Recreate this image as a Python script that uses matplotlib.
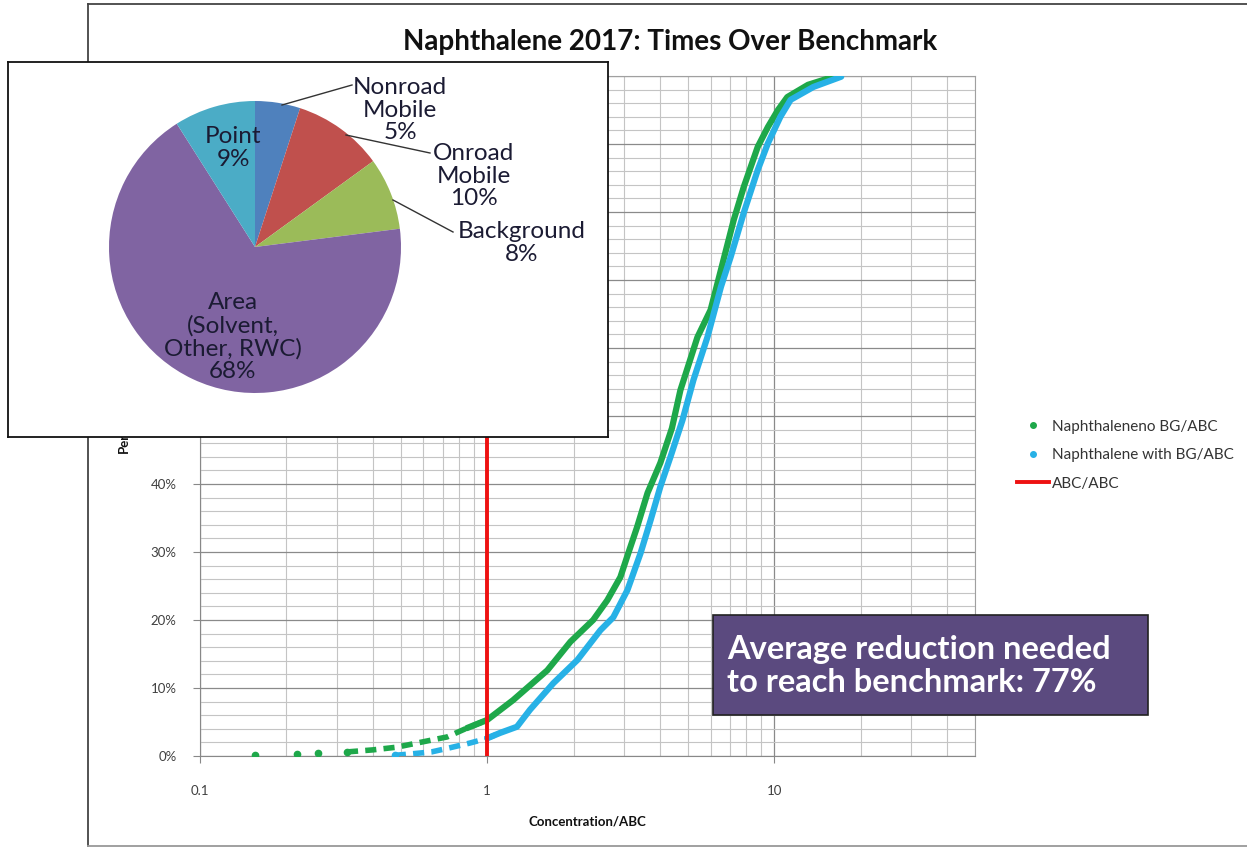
import matplotlib
matplotlib.use("Agg")
import matplotlib.pyplot as plt
import numpy as np
from matplotlib.lines import Line2D
from matplotlib.patches import Rectangle
from matplotlib.ticker import MultipleLocator, FixedLocator, FuncFormatter, NullFormatter

plt.rcParams['font.family'] = ['Lato', 'DejaVu Sans']

# concentration / ABC  vs cumulative percent of sites
green_x = [0.155, 0.217, 0.257, 0.325, 0.40, 0.485, 0.60, 0.725, 0.85, 1.0, 1.23, 1.62, 1.95, 2.34,
           2.62, 2.91, 3.10, 3.33, 3.62, 4.01, 4.40, 4.71, 5.40, 6.0, 6.52, 7.22, 7.83, 8.76, 9.5,
           10.3, 11.1, 13.1, 16.1]
green_y = [0.1, 0.3, 0.4, 0.6, 0.9, 1.3, 2.1, 2.8, 4.1, 5.3, 8.2, 12.6, 16.8, 20.0,
           22.9, 26.3, 29.8, 33.7, 38.7, 43.1, 48.2, 53.8, 61.6, 65.6, 71.5, 78.8, 83.7, 89.6, 92.5,
           95.0, 96.9, 98.7, 99.9]
blue_x = [0.477, 0.54, 0.64, 0.74, 0.87, 1.0, 1.11, 1.27, 1.41, 1.70, 2.06, 2.48, 2.75, 3.08,
          3.42, 3.71, 4.01, 4.35, 4.79, 5.23, 5.85, 6.52, 7.05, 7.83, 8.76, 9.5, 10.5, 11.4,
          13.7, 17.1]
blue_y = [0.1, 0.3, 0.6, 1.2, 1.9, 2.6, 3.4, 4.3, 6.8, 10.7, 14.1, 18.5, 20.4, 24.4,
          29.8, 34.7, 39.6, 44.0, 49.4, 55.3, 61.6, 69.0, 73.4, 79.9, 86.2, 90.1, 94.0, 96.5,
          98.4, 99.9]
benchmark = 1.0

pie_labels = ['Nonroad\nMobile\n5%', 'Onroad\nMobile\n10%', 'Background\n8%',
              'Area\n(Solvent,\nOther, RWC)\n68%', 'Point\n9%']
pie_shares = [5, 10, 8, 68, 9]
pie_colors = ['#4F81BD', '#C0504D', '#9BBB59', '#8064A2', '#4BACC6']

GREEN = '#1ea84a'
BLUE = '#27b1e6'
W, H = 1247, 849

fig = plt.figure(figsize=(W / 100, H / 100), dpi=100)
fig.patch.set_facecolor('white')

# outer chart frame
frame = dict(transform=fig.transFigure, lw=1.3, zorder=0.5)
fig.add_artist(Line2D([88 / W, 88 / W], [1 - 846 / H, 1 - 4 / H], color='#444', **frame))
fig.add_artist(Line2D([88 / W, 1], [1 - 4 / H, 1 - 4 / H], color='#444', **frame))
fig.add_artist(Line2D([88 / W, 1], [1 - 846 / H, 1 - 846 / H], color='#999', **frame))

fig.text(670 / W, 1 - 42 / H, 'Naphthalene 2017: Times Over Benchmark', ha='center', va='center',
         fontsize=20, fontweight='bold', color='#111')

ax = fig.add_axes([200 / W, 1 - 756 / H, 775 / W, 680 / H])
ax.set_zorder(0)
ax.set_xscale('log')
ax.set_xlim(0.1, 50)
ax.set_ylim(0, 1)
ax.xaxis.set_major_locator(FixedLocator([0.1, 1, 10]))
ax.xaxis.set_major_formatter(FuncFormatter(lambda v, p: '{:g}'.format(v)))
ax.xaxis.set_minor_formatter(NullFormatter())
ax.yaxis.set_major_locator(MultipleLocator(0.1))
ax.yaxis.set_minor_locator(MultipleLocator(0.02))
# labels above 40% sit under the pie inset, so they are left blank
ax.yaxis.set_major_formatter(FuncFormatter(lambda v, p: '{:.0f}%'.format(v * 100) if v < 0.45 else ''))
ax.grid(which='major', color='#8a8a8a', lw=0.9)
ax.grid(which='minor', color='#c4c4c4', lw=0.8)
ax.set_axisbelow(True)
ax.tick_params(which='major', length=5, color='#888', labelsize=9.5, labelcolor='#404040')
ax.tick_params(axis='x', which='major', pad=16)
ax.tick_params(axis='y', which='major', pad=12)
ax.tick_params(which='minor', length=0)
for s in ax.spines.values():
    s.set_color('#a0a0a0')
ax.spines['left'].set_color('#888')
ax.spines['bottom'].set_color('#888')

gx, gy = np.array(green_x), np.array(green_y) / 100
bx, by = np.array(blue_x), np.array(blue_y) / 100

# sparse low tail: single dots, then dashes, then the dense solid part
m = gx < 0.38
ax.plot(gx[m], gy[m], 'o', color=GREEN, ms=4.5, zorder=3)
m = (gx > 0.3) & (gx <= 1.0)
ax.plot(gx[m], gy[m], color=GREEN, lw=4, ls=(0, (2, 1.3)), zorder=3)
m = gx >= 0.85
ax.plot(gx[m], gy[m], color=GREEN, lw=4.5, solid_capstyle='round', solid_joinstyle='round', zorder=3)

m = bx < 0.5
ax.plot(bx[m], by[m], 'o', color=BLUE, ms=4.5, zorder=3)
m = (bx <= 1.11)
ax.plot(bx[m], by[m], color=BLUE, lw=4, ls=(0, (2, 1.3)), zorder=3)
m = bx >= 1.0
ax.plot(bx[m], by[m], color=BLUE, lw=4.5, solid_capstyle='round', solid_joinstyle='round', zorder=3)

ax.axvline(benchmark, color='#ee1111', lw=2.8, zorder=4)

ax.set_xlabel('Concentration/ABC', fontsize=9.5, fontweight='bold', color='#111')
ax.xaxis.set_label_coords(0.5, -0.088)
ax.set_ylabel('Percentile', fontsize=9.5, fontweight='bold', color='#111')
ax.yaxis.set_label_coords(-0.091, 0.49)

handles = [Line2D([], [], marker='o', ls='', color=GREEN, ms=4),
           Line2D([], [], marker='o', ls='', color=BLUE, ms=4),
           Line2D([], [], color='#ee1111', lw=2.8)]
leg = fig.legend(handles, ['Naphthaleneno BG/ABC', 'Naphthalene with BG/ABC', 'ABC/ABC'],
                 loc='upper left', bbox_to_anchor=(1003 / W, 1 - 406 / H), frameon=False,
                 fontsize=11, handlelength=2.1, labelspacing=0.95, handletextpad=0.2)
for t in leg.get_texts():
    t.set_color('#333')

# annotation box
fig.add_artist(Rectangle((713 / W, 1 - 715 / H), 435 / W, 100 / H, transform=fig.transFigure,
                         facecolor='#5b4a7f', edgecolor='#222', lw=1.2, zorder=5))
fig.text(727 / W, 1 - 666 / H, 'Average reduction needed\nto reach benchmark: 77%', color='white',
         fontsize=23.5, fontweight='bold', va='center', ha='left', linespacing=1.15, zorder=6)

# pie inset (box coordinates in pixels)
pax = fig.add_axes([8 / W, 1 - 437 / H, 600 / W, 375 / H])
pax.set_zorder(5)
pax.pie(pie_shares, colors=pie_colors, startangle=90, counterclock=False,
        center=(247, 190), radius=146, wedgeprops=dict(linewidth=0))
pax.set_frame_on(True)
pax.set_xlim(0, 600)
pax.set_ylim(0, 375)
pax.set_aspect('auto')
pax.patch.set_facecolor('white')
for s in pax.spines.values():
    s.set_color('#111')
    s.set_linewidth(1.3)
pax.set_xticks([])
pax.set_yticks([])

txt = dict(fontsize=17.5, ha='center', va='center', color='#1b1b33', linespacing=1.08)
label_pos = [(392, 327), (466, 261), (514, 194), (225, 100), (225, 289)]
for lab, (px, py) in zip(pie_labels, label_pos):
    pax.text(px, py, lab, **txt)
leaders = [((274, 332), (344, 352)), ((338, 302), (422, 284)), ((385, 237), (445, 205))]
for (x0, y0), (x1, y1) in leaders:
    pax.plot([x0, x1], [y0, y1], color='#333', lw=1)

fig.savefig('out.png', dpi=100, facecolor='white')
